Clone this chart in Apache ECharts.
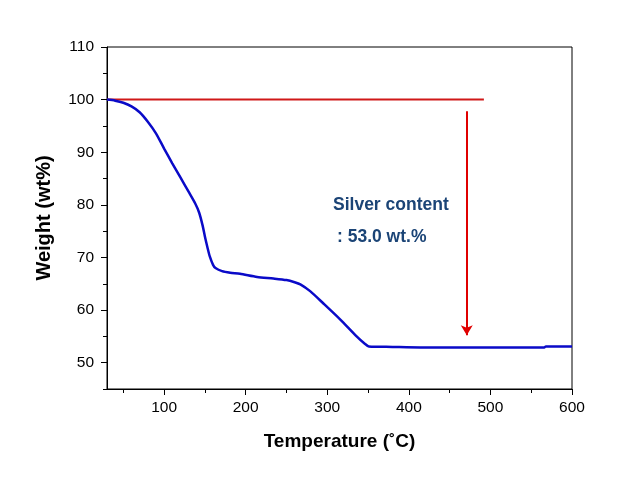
<!DOCTYPE html>
<html>
<head>
<meta charset="utf-8">
<script src="https://cdn.jsdelivr.net/npm/echarts@6/dist/echarts.min.js"></script>
<style>html,body{margin:0;padding:0;background:#fff;}#c{width:622px;height:492px;}</style>
</head>
<body>
<div id="c"></div>
<script>
var temps   = [30, 40, 50, 60, 70, 80, 90, 100, 110, 120, 130, 138, 143, 147, 150, 153, 156, 160, 163, 171, 181, 193, 214, 234, 250, 260, 267, 279, 295, 316, 336, 346, 351, 380, 414, 500, 566, 568, 600];
var weights = [100, 99.8, 99.4, 98.7, 97.6, 95.8, 93.6, 90.7, 87.9, 85.2, 82.5, 80.3, 78.5, 76.2, 74.0, 72.0, 70.2, 68.6, 68.0, 67.4, 67.1, 66.9, 66.3, 66.0, 65.7, 65.3, 64.9, 63.6, 61.3, 58.2, 55.0, 53.6, 53.1, 53.0, 52.9, 52.9, 52.9, 53.1, 53.1];

var refLineX = [30, 492];
var refLineY = [100, 100];
var arrowX = 471;
var arrowFrom = 97.8;
var arrowTo = 55.2;

var xMajorTicks = [100, 200, 300, 400, 500, 600];
var xMinorTicks = [50, 150, 250, 350, 450, 550];
var yMajorTicks = [50, 60, 70, 80, 90, 100, 110];
var yMinorTicks = [45, 55, 65, 75, 85, 95, 105];

var annotation1 = 'Silver content';
var annotation2 = ': 53.0 wt.%';
var xTitle = 'Temperature (\u02DAC)';
var yTitle = 'Weight (wt%)';

var curve = temps.map(function (t, i) { return [t, weights[i]]; });
var refLine = refLineX.map(function (t, i) { return [t, refLineY[i]]; });

var chart = echarts.init(document.getElementById('c'));
var font = 'Arial, "Liberation Sans", sans-serif';
var baseX = {
  type: 'value', min: 30, max: 600, position: 'bottom',
  splitLine: { show: false }
};
var baseY = {
  type: 'value', min: 45, max: 110, position: 'left',
  splitLine: { show: false }
};
chart.setOption({
  animation: false,
  backgroundColor: '#fff',
  grid: { left: 107, right: 50, top: 47, bottom: 103, show: true, borderColor: '#000', borderWidth: 1, backgroundColor: 'transparent' },
  xAxis: [
    Object.assign({}, baseX, {
      name: xTitle, nameLocation: 'middle', nameGap: 43,
      nameTextStyle: { fontFamily: font, fontWeight: 'bold', fontSize: 19, color: '#000' },
      axisLine: { lineStyle: { color: '#000', width: 1 } },
      axisTick: { show: true, length: 6, customValues: xMajorTicks, lineStyle: { color: '#000' } },
      axisLabel: { customValues: xMajorTicks, margin: 11, fontFamily: font, fontSize: 15.5, color: '#000' }
    }),
    Object.assign({}, baseX, {
      axisLine: { show: false },
      axisTick: { show: true, length: 4, customValues: xMinorTicks, lineStyle: { color: '#000' } },
      axisLabel: { show: false }
    })
  ],
  yAxis: [
    Object.assign({}, baseY, {
      name: yTitle, nameLocation: 'middle', nameGap: 53,
      nameTextStyle: { fontFamily: font, fontWeight: 'bold', fontSize: 20, color: '#000' },
      axisLine: { show: true, lineStyle: { color: '#000', width: 1 } },
      axisTick: { show: true, length: 6, customValues: yMajorTicks, lineStyle: { color: '#000' } },
      axisLabel: { customValues: yMajorTicks, margin: 13, fontFamily: font, fontSize: 15.5, color: '#000' }
    }),
    Object.assign({}, baseY, {
      axisLine: { show: false },
      axisTick: { show: true, length: 4, customValues: yMinorTicks, lineStyle: { color: '#000' } },
      axisLabel: { show: false }
    })
  ],
  series: [
    {
      type: 'line', data: refLine, showSymbol: false, symbol: 'none',
      lineStyle: { color: '#d01818', width: 2 },
      z: 3,
      markLine: {
        silent: true, symbol: ['none', 'arrow'], symbolSize: [9, 10],
        label: { show: false },
        lineStyle: { color: '#e00000', width: 2, type: 'solid' },
        data: [[{ coord: [arrowX, arrowFrom] }, { coord: [arrowX, arrowTo] }]]
      }
    },
    {
      type: 'line', data: curve, showSymbol: false, symbol: 'none',
      smooth: 0.25,
      lineStyle: { color: '#0a0ac8', width: 2.5 },
      z: 4
    }
  ],
  graphic: [
    { type: 'text', left: 333, top: 196, style: { text: annotation1, fontFamily: font, fontWeight: 'bold', fontSize: 17.5, fill: '#1b4476' } },
    { type: 'text', left: 337, top: 228, style: { text: annotation2, fontFamily: font, fontWeight: 'bold', fontSize: 17.5, fill: '#1b4476' } }
  ]
});
</script>
</body>
</html>
